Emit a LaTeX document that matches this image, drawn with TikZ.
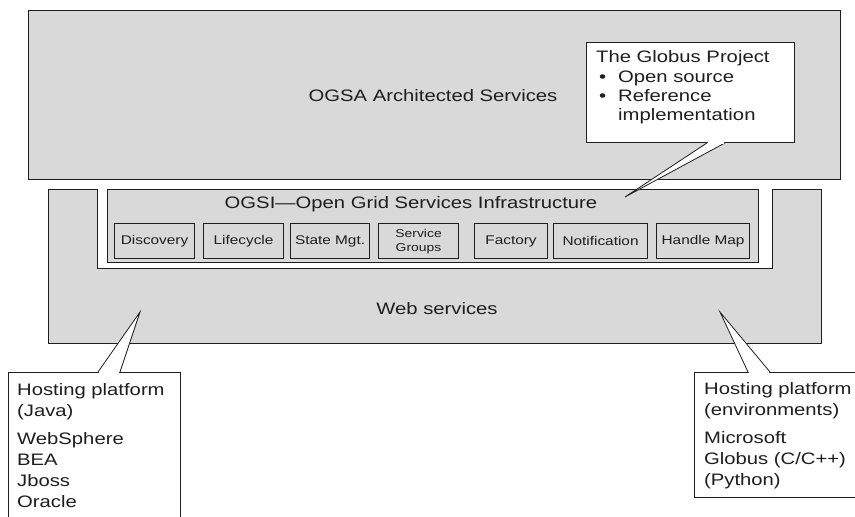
\documentclass[tikz,border=0pt]{standalone}
\usepackage{fontspec}
\setmainfont{Liberation Sans}[FakeStretch=1.22]
\usetikzlibrary{calc}

\definecolor{panelgray}{HTML}{D9D9D9}
\definecolor{ink}{HTML}{1E1E1E}

\newcommand\bigfont{\fontsize{16.6}{20}\selectfont}
\newcommand\modfont{\fontsize{12.6}{14}\selectfont}
\newcommand\smallmodfont{\fontsize{11.4}{14}\selectfont}

\begin{document}
\begin{tikzpicture}[x=1pt,y=-1pt,
  panel/.style={draw=ink, fill=panelgray, line width=0.9pt, inner sep=0pt},
  module/.style={draw=ink, fill=panelgray, line width=1.1pt, inner sep=0pt,
    anchor=north west, minimum height=35pt, font=\modfont, text=ink},
  callout/.style={draw=ink, fill=white, line width=0.9pt, inner sep=0pt, anchor=north west},
  label/.style={font=\bigfont, text=ink, inner sep=0pt},
  line/.style={font=\bigfont, text=ink, inner sep=0pt, anchor=base west},
  pointer/.style={draw=ink, fill=white, line width=0.8pt, line join=miter}]
\useasboundingbox (0,0) rectangle (855,517);
\clip (0,0) rectangle (855,517);

% OGSA layer
\node[panel, anchor=north west, minimum width=812pt, minimum height=169pt] (ogsa) at (28,10) {};
\node[label, anchor=base] (ogsatext) at (433,101) {OGSA Architected Services};

% Web services layer, notched around the OGSI frame
\path[draw=ink, fill=panelgray, line width=0.9pt]
  (48,189) -- (97,189) -- (97,268) -- (772,268) -- (772,189) -- (821,189)
  -- (821,343) -- (48,343) -- cycle;
\node[label, anchor=base] (webtext) at (437,314) {Web services};

% OGSI layer with its modules
\node[panel, line width=1.4pt, anchor=north west, minimum width=651pt, minimum height=73pt] (ogsi) at (107,189) {};
\node[label, anchor=base] (ogsitext) at (411,208) {OGSI—Open Grid Services Infrastructure};

\node[module, minimum width=80pt] (disc) at (114,223) {Discovery};
\node[module, minimum width=80pt] (life) at (203,223) {Lifecycle};
\node[module, minimum width=79pt] (state) at (290,223) {State Mgt.};
\node[module, minimum width=80pt, font=\smallmodfont, align=center] (groups) at (378,223) {Service\\Groups};
\node[module, minimum width=73pt] (factory) at (474,223) {Factory};
\node[module, minimum width=94pt] (notif) at (553,223) {Notification};
\node[module, minimum width=93pt] (handle) at (656,223) {Handle Map};

% Globus callout
\node[callout, minimum width=208pt, minimum height=100pt] (globus) at (586,42) {};
\coordinate (globustip) at (625,197);
\path[pointer] ($(globus.south west)+(121,0)$) -- (globustip) -- ($(globus.south west)+(139,0)$);
\fill[white] ($(globus.south west)+(121.6,-0.8)$) rectangle ($(globus.south west)+(138.4,0.6)$);
\node[line] (g1) at (596,62) {The Globus Project};
\node[line] (g2b) at (599,82) {•};
\node[line] (g2) at (618,82) {Open source};
\node[line] (g3b) at (599,101) {•};
\node[line] (g3) at (618,101) {Reference};
\node[line] (g4) at (618,120) {implementation};

% Java hosting callout
\node[callout, minimum width=172pt, minimum height=170pt] (java) at (8,372) {};
\coordinate (javatip) at (140,312);
\path[pointer] ($(java.north west)+(90,0)$) -- (javatip) -- ($(java.north west)+(112,0)$);
\fill[white] ($(java.north west)+(90.6,-0.6)$) rectangle ($(java.north west)+(111.4,0.8)$);
\node[line] (j1) at (17,395) {Hosting platform};
\node[line] (j2) at (17,416) {(Java)};
\node[line] (j3) at (17,444) {WebSphere};
\node[line] (j4) at (17,465) {BEA};
\node[line] (j5) at (17,486) {Jboss};
\node[line] (j6) at (17,507) {Oracle};

% Other hosting environments callout
\node[callout, minimum width=180pt, minimum height=125pt] (env) at (694,372) {};
\coordinate (envtip) at (720,312);
\path[pointer] ($(env.north west)+(54,0)$) -- (envtip) -- ($(env.north west)+(76,0)$);
\fill[white] ($(env.north west)+(54.6,-0.6)$) rectangle ($(env.north west)+(75.4,0.8)$);
\node[line] (e1) at (704,394) {Hosting platform};
\node[line] (e2) at (704,415) {(environments)};
\node[line] (e3) at (704,443) {Microsoft};
\node[line] (e4) at (704,464) {Globus (C/C++)};
\node[line] (e5) at (704,485) {(Python)};
\end{tikzpicture}
\end{document}
